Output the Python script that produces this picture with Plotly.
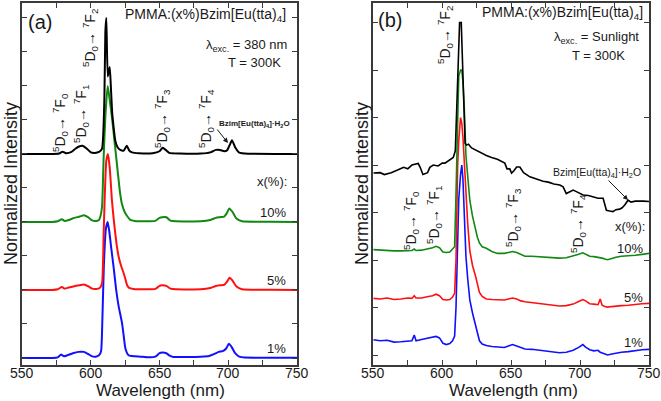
import plotly.graph_objects as go

# ---------------- Data (normalized intensity, %, peak = 100) ----------------
# Panel (a): excitation 380 nm
a_blue_wl = [550, 572, 576, 578.5, 580.5, 583, 587, 591, 595, 598, 601, 603.5, 606, 607.5, 608.5, 609.5, 611,
             612.3, 613.5, 615, 616.6, 618.5, 620.3, 622.7, 624, 625.2, 627.5, 630, 636, 642, 647, 650, 652, 655,
             657, 660, 670, 680, 686, 690, 693, 696, 698.5, 700.5, 702.5, 705, 708, 712, 730, 750]
a_blue_I = [0, 0, 0.5, 2.5, 1.2, 2, 3.5, 4.5, 4.5, 3, 1.2, 1, 2, 5, 30, 67, 95,
            100, 93, 80, 67, 50, 38, 26, 16, 7, 2, 1.5, 1, 0.5, 1, 3.5, 4, 3.5,
            2, 0.8, 0.8, 1, 1.5, 3, 4.5, 5, 7, 10.5, 8, 3.5, 1, 0.3, 0.2, 0.2]

a_red_wl = [550, 572, 576, 579, 581, 584, 588, 592, 595, 598, 601, 604, 606.5, 608.2, 609.4, 610.1, 611.3,
            612.5, 613.8, 615.4, 616.6, 617.8, 619, 620.3, 622, 623.9, 625.2, 626.4, 628, 631, 640, 647, 650,
            652, 655, 658, 662, 680, 687, 691, 694, 697, 699, 701, 703, 706, 710, 730, 750]
a_red_I = [0, 0, 0.5, 2.2, 1, 1.8, 2.8, 3.5, 4, 2.8, 1, 0.8, 1.5, 5, 42, 66, 95,
           100, 90, 66, 53, 42, 32, 24.5, 18, 12.5, 8, 3.7, 1.5, 0.8, 0.5, 0.8, 3,
           3.5, 3, 1, 0.5, 0.5, 1.5, 3, 3.5, 3.8, 6, 9, 7, 2.5, 0.6, 0.2, 0]

a_green_wl = [550, 572, 576, 579, 581, 584, 588, 592, 595, 598, 601, 604, 606, 607, 608.2, 609.4, 610.6,
              612.3, 613.5, 615.4, 617, 619.1, 621, 622.5, 625, 628.8, 632, 640, 647, 650, 652, 655, 658,
              662, 680, 687, 691, 694, 697, 699, 700.8, 703, 706, 710, 730, 750]
a_green_I = [0, 0, 0.5, 2, 0.8, 1.5, 3, 4, 5, 3.5, 1.2, 0.8, 1.5, 4, 11, 48, 77,
             100, 92, 77, 62, 42, 24, 14, 6.6, 1.5, 0.8, 0.5, 0.8, 3, 3.5, 3.5, 1,
             0.5, 0.5, 1.5, 3, 3.5, 4, 6.5, 10, 7.5, 2.5, 0.5, 0.2, 0]

a_black_wl = [550, 572, 577, 579.5, 582, 586, 589, 591.5, 594, 597, 600, 603, 606, 608.2, 609.9, 610.6, 611.3,
              612.4, 613.8, 614.6, 615.6, 616.6, 617.8, 619.5, 621.5, 624, 626.2, 628, 630, 635, 645, 650,
              652.3, 654.5, 657, 665, 680, 687, 691, 694, 697, 699, 700.8, 702.7, 705, 708, 715, 750]
a_black_I = [0, 0, 0.3, 1.7, 0.5, 1.5, 4, 5.5, 6, 4, 1.2, 0.8, 1.5, 4, 40, 89, 100,
             57, 64, 50, 30, 20, 10, 5, 3, 2.5, 6, 2.5, 1.2, 0.5, 0.5, 2,
             4.5, 3, 0.8, 0.3, 0.3, 1.2, 3, 3, 2, 2.5, 6, 10, 5, 1, 0.2, 0]

a_offsets = [0, 50, 100, 150]          # 1%, 5%, 10%, neat complex

# Panel (b): sunlight excitation
b_wl = [550, 555, 560, 565, 570, 575, 578, 579.7, 581, 585, 590, 593, 595.5, 598, 600.5, 603, 605.5, 607.5,
        609, 610, 611.2, 612, 613.3, 614.2, 615, 616, 617.2, 618.5, 620, 622, 624, 625.5, 627, 629, 632, 636,
        640, 645, 648, 651, 654, 657, 660, 665, 670, 675, 680, 685, 690, 695, 699, 702, 704, 707, 710, 713,
        714.6, 716, 718, 720, 723, 726, 730, 735, 740, 745, 750]
b_blue_I = [8, 7.5, 7.8, 6.8, 7, 7.5, 7.5, 10.5, 7.5, 8.2, 9, 9.2, 9.8, 9, 6.2, 5.5, 6, 7.5,
            10, 25, 60, 82, 95, 100, 93, 75, 52, 40, 29, 22, 16, 11, 7.5, 5.8, 5, 4.5,
            4.2, 4, 4.8, 5.5, 4.8, 3.8, 3.2, 3, 2.5, 2, 1.8, 1.2, 1.5, 2.5, 4, 5.5, 4.2, 2.8, 2.2, 2.5,
            1.5, 1.2, 0.5, 0, 0.5, 1, 1.5, 1.8, 2.5, 2.8, 3]
b_red_I = [4.8, 4.5, 5, 4.2, 4.5, 5, 4.8, 6.2, 5, 5, 5.8, 6.2, 7, 6.2, 4.2, 4, 4.2, 5.5,
           7.5, 25, 75, 88, 100, 97, 90, 75, 57, 44, 30, 22, 17, 13, 8, 5.8, 4.5, 4.2,
           4, 4, 4.5, 5, 4.5, 3.5, 3, 2.5, 2, 1.5, 1.2, 0.8, 1, 1.8, 3.2, 4.2, 3.5, 2, 1.8, 1.5,
           4.5, 1.2, 0.5, 0.2, 0.5, 0.8, 1, 1.2, 1.8, 2, 2.2]
b_green_I = [5.5, 5.2, 5, 4.8, 4.8, 5, 5, 5.8, 5, 5.2, 5.8, 6.5, 7.2, 6.5, 4.2, 4, 4.2, 5.5,
             7, 35, 85, 97, 100, 100, 94, 80, 55, 42, 31.5, 23, 16, 12, 9, 7, 6.2, 4.5,
             3.5, 3.5, 4, 4.5, 4, 3, 2, 2, 1.8, 1.5, 1.2, 1, 1.2, 2, 3, 3.8, 3, 2, 1.8, 1.5,
             1.5, 1, 0.5, 0.2, 0.8, 1.5, 2, 2.2, 2.5, 3, 3.5]
b_black_wl = [550, 555, 558, 563, 568, 572, 575, 578, 582.6, 584, 586, 589.4, 591, 593.5, 597, 600, 602, 605,
              608, 609.5, 611, 612.6, 613.8, 615.2, 616.6, 617.6, 619, 621.3, 625, 628.5, 632, 635.8, 640,
              645.4, 647, 649, 650.3, 652, 654, 656.3, 659, 663.6, 667, 670, 673.2, 677, 681, 685.3, 687.7,
              690, 692.5, 695, 697.3, 700, 702.2, 706, 709.4, 713, 716.7, 718, 719.1, 721.5, 723.9, 726,
              728.7, 730.5, 732.4, 734.8, 737, 740, 743.3, 746, 750]
b_black_I = [20.8, 21, 20, 21, 22.5, 23.8, 23, 25, 25.8, 23.8, 20, 21, 23.8, 25, 24.5, 26, 26, 27.5,
             29, 32.5, 65, 100, 100, 67.5, 36.5, 35.5, 36, 34, 32.5, 31, 30, 29, 28,
             26, 23, 23, 20.8, 22, 24, 24, 21, 18.8, 18, 17, 16.5, 16, 15, 14.5, 13.5,
             10, 11, 11.8, 11, 10, 9.2, 9, 8.2, 7.5, 7.5, 3.8, 1.2, 0.8, 0.5, 1.5,
             1.8, 2.5, 4, 6.5, 5.5, 6, 5.8, 6, 5.8]
b_offsets = [0, 25, 50, 75]

colors = ["#1010FF", "#FF1010", "#118811", "#000000"]
labels_pct = ["1%", "5%", "10%"]
xticks = [550, 600, 650, 700, 750]
xtick_labels = ["550", "600", "650", "700", "750"]

# ---------------- Figure ----------------
W, H = 661, 401
def px(x): return x / W
def py(y): return 1 - y / H

fig = go.Figure()

a_series = [(a_blue_wl, a_blue_I), (a_red_wl, a_red_I), (a_green_wl, a_green_I), (a_black_wl, a_black_I)]
for (wl, I), off, c in zip(a_series, a_offsets, colors):
    fig.add_trace(go.Scatter(x=wl, y=[v + off for v in I], mode="lines",
                             line=dict(color=c, width=2, shape="spline", smoothing=0.5),
                             xaxis="x", yaxis="y", showlegend=False, hoverinfo="skip"))

b_series = [(b_wl, b_blue_I), (b_wl, b_red_I), (b_wl, b_green_I), (b_black_wl, b_black_I)]
for (wl, I), off, c in zip(b_series, b_offsets, colors):
    fig.add_trace(go.Scatter(x=wl, y=[v + off for v in I], mode="lines",
                             line=dict(color=c, width=1.6),
                             xaxis="x2", yaxis="y2", showlegend=False, hoverinfo="skip"))

FONT = "Liberation Sans, Arial, sans-serif"
TXT = "#1a1a1a"
AX = "#3a3a3a"

def xax(domain, anchor):
    return dict(domain=domain, range=[550, 750], anchor=anchor, tickvals=xticks, showticklabels=False,
                ticks="inside", ticklen=5, tickwidth=1.2, tickcolor=AX, automargin=False,
                minor=dict(tickvals=[575, 625, 675, 725], ticks="inside", ticklen=5, tickcolor=AX, tickwidth=1.2),
                showline=True, linecolor=AX, linewidth=1.5, mirror="ticks",
                showgrid=False, zeroline=False)

def yax(domain, anchor, rng):
    return dict(domain=domain, range=rng, anchor=anchor, dtick=25, tick0=0, automargin=False,
                ticks="inside", ticklen=5, tickwidth=1.2, tickcolor=AX,
                showline=True, linecolor=AX, linewidth=1.5, mirror="ticks",
                showticklabels=False, showgrid=False, zeroline=False)

ydom = [py(365), py(3)]
fig.update_layout(
    width=W, height=H, margin=dict(l=0, r=0, t=0, b=0, pad=0, autoexpand=False),
    autosize=False,
    paper_bgcolor="white", plot_bgcolor="white",
    font=dict(family=FONT, color=TXT),
    xaxis=xax([px(22), px(297)], "y"),
    yaxis=yax(ydom, "x", [-5.15, 261]),
    xaxis2=xax([px(373.3), px(649)], "y2"),
    yaxis2=yax(ydom, "x2", [-5.25, 185.3]),
)

ann = []
def T(text, x, y, size=13, xanchor="center", angle=0, bold=False, xref="paper"):
    if bold:
        text = "<b>" + text + "</b>"
    ann.append(dict(text=text, x=px(x) if xref == "paper" else x, y=py(y), xref=xref, yref="paper",
                    showarrow=False, xanchor=xanchor, yanchor="middle", textangle=angle,
                    font=dict(size=size, color=TXT, family=FONT)))

def ARROW(x0, y0, x1, y1):
    ann.append(dict(text="", x=px(x1), y=py(y1), xref="paper", yref="paper", showarrow=True,
                    ax=x0 - x1, ay=y0 - y1, axref="pixel", ayref="pixel",
                    arrowhead=2, arrowsize=1, arrowwidth=1, arrowcolor=TXT, standoff=0))

trans = lambda n: "<sup>5</sup>D<sub>0</sub>\u2192 <sup>7</sup>F<sub>%d</sub>" % n

# x tick labels (placed on the data x scale)
for xr in ("x", "x2"):
    for v, lab in zip(xticks, xtick_labels):
        T(lab, v, 373, size=14, xref=xr)

# axis titles
for cx in (160, 513):
    T("Wavelength (nm)", cx, 390, size=17)
T("Normalized Intensity", 11, 184, size=18, angle=-90)
T("Normalized Intensity", 362, 184, size=18, angle=-90)

# panel (a)
T("(a)", 40, 22, size=20)
T("PMMA:(x%)Bzim[Eu(tta)<sub>4</sub>]", 288, 15, size=14, xanchor="right")
T("\u03bb<sub>exc.</sub> = 380 nm", 289, 45, size=13, xanchor="right")
T("T = 300K", 254, 62, size=13)
T(trans(2), 90, 38, size=14, angle=-90)
T(trans(0), 60, 123, size=14, angle=-90)
T(trans(1), 81, 114, size=14, angle=-90)
T(trans(3), 162, 119, size=14, angle=-90)
T(trans(4), 206, 119, size=14, angle=-90)
T("Bzim[Eu(tta)<sub>4</sub>]\u00b7H<sub>2</sub>O", 254, 124, size=8, bold=True)
ARROW(216, 128, 228, 143)
T("x(%):", 289, 182, size=13, xanchor="right")
for lab, yy in zip(labels_pct, [348, 280, 212]):
    T(lab, 288, yy, size=13, xanchor="right")

# panel (b)
T("(b)", 390, 20, size=20)
T("PMMA:(x%)Bzim[Eu(tta)<sub>4</sub>]", 645, 13, size=14, xanchor="right")
T("\u03bb<sub>exc.</sub> = Sunlight", 641, 38, size=13, xanchor="right")
T("T = 300K", 598, 56, size=13)
T(trans(2), 445, 35, size=14, angle=-90)
T(trans(0), 411, 221, size=14, angle=-90)
T(trans(1), 434, 215, size=14, angle=-90)
T(trans(3), 513, 218, size=14, angle=-90)
T(trans(4), 578, 224, size=14, angle=-90)
T("Bzim[Eu(tta)<sub>4</sub>]\u00b7H<sub>2</sub>O", 597, 173, size=10.5)
ARROW(607, 179, 628, 200)
T("x(%):", 647, 226, size=13, xanchor="right")
for lab, yy in zip(labels_pct, [342, 297, 248]):
    T(lab, 645, yy, size=13, xanchor="right")

fig.update_layout(annotations=ann)
fig.write_html("out.html", config={"displayModeBar": False},
               post_script="document.body.style.margin='0px';document.body.style.overflow='hidden';")
